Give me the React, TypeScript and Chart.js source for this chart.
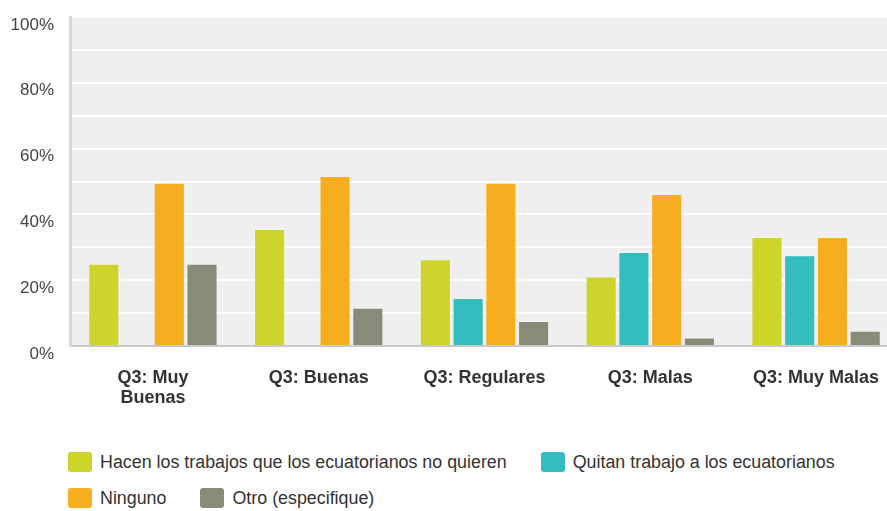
import React, { useEffect, useRef } from 'react';
import { Chart, registerables } from 'chart.js';

Chart.register(...registerables);

const categories: (string | string[])[] = [['Q3: Muy', 'Buenas'], 'Q3: Buenas', 'Q3: Regulares', 'Q3: Malas', 'Q3: Muy Malas'];
const seriesNames = [
  'Hacen los trabajos que los ecuatorianos no quieren',
  'Quitan trabajo a los ecuatorianos',
  'Ninguno',
  'Otro (especifique)',
];
const hacenValues = [25, 35.6, 26.4, 21.1, 33.1];
const quitanValues = [0, 0, 14.6, 28.6, 27.6];
const ningunoValues = [49.6, 51.7, 49.6, 46.2, 33.1];
const otroValues = [25, 11.6, 7.6, 2.6, 4.6];
const seriesColors = ['#CDD52A', '#33BDBE', '#F6AE1F', '#8A8A78'];
const yMax = 100;
const yStep = 10;
const yLabelEvery = 20;

const FONT = "'Liberation Sans', Arial, Helvetica, sans-serif";

const bgPlugin = {
  id: 'plotBg',
  beforeDraw(chart: any) {
    const { ctx, chartArea } = chart;
    if (!chartArea) return;
    ctx.save();
    ctx.fillStyle = '#EFEFEF';
    ctx.fillRect(chartArea.left, chartArea.top, chartArea.right - chartArea.left, chartArea.bottom - chartArea.top);
    ctx.restore();
  },
};

export default function App() {
  const canvasRef = useRef<HTMLCanvasElement | null>(null);

  useEffect(() => {
    const canvas = canvasRef.current;
    if (!canvas) return;
    const allValues = [hacenValues, quitanValues, ningunoValues, otroValues];
    const chart = new Chart(canvas, {
      type: 'bar',
      data: {
        labels: categories,
        datasets: seriesNames.map((name, i) => ({
          label: name,
          data: allValues[i],
          backgroundColor: seriesColors[i],
          borderColor: 'rgba(255,255,255,0.25)',
          borderWidth: 1,
          categoryPercentage: 0.79,
          barPercentage: 0.95,
        })),
      },
      options: {
        animation: false,
        responsive: false,
        maintainAspectRatio: false,
        layout: { padding: { top: 17, left: 0, right: 0, bottom: 0 } },
        plugins: {
          legend: { display: false },
          tooltip: { enabled: false },
        },
        scales: {
          x: {
            grid: { display: false, drawTicks: false },
            border: { display: true, color: '#C9C9C9', width: 2 },
            ticks: {
              color: '#333333',
              font: { family: FONT, size: 18, weight: 'bold', lineHeight: 1.11 },
              padding: 22,
              maxRotation: 0,
              autoSkip: false,
            },
            afterFit(scale: any) {
              scale.height = 420 - 346;
              scale.paddingLeft = 0;
              scale.paddingRight = 0;
            },
          },
          y: {
            min: 0,
            max: yMax,
            grid: {
              drawTicks: false,
              lineWidth: 2,
              color: (c: any) => (c.tick && c.tick.value === 0 ? 'rgba(0,0,0,0)' : '#FFFFFF'),
            },
            border: { display: true, color: '#D8D8D8', width: 3 },
            ticks: {
              stepSize: yStep,
              autoSkip: false,
              color: '#444444',
              font: { family: FONT, size: 17 },
              padding: 16,
              labelOffset: 8,
              callback: (v: any) => (Number(v) % yLabelEvery === 0 ? `${v}%` : ''),
            },
            afterFit(scale: any) {
              scale.width = 70;
              scale.paddingTop = 0;
              scale.paddingBottom = 0;
            },
          },
        },
      },
      plugins: [bgPlugin],
    });
    return () => chart.destroy();
  }, []);

  return (
    <div style={{ position: 'absolute', left: 0, top: 0, width: 887, height: 511, overflow: 'hidden', background: '#fff' }}>
      <canvas ref={canvasRef} width={899} height={420} style={{ display: 'block', width: 899, height: 420 }} />
      <div
        style={{
          position: 'absolute',
          left: 68,
          top: 452,
          width: 819,
          display: 'flex',
          flexWrap: 'wrap',
          columnGap: 34,
          rowGap: 16,
          fontFamily: FONT,
          fontSize: 17.85,
          lineHeight: '20px',
          color: '#333333',
        }}
      >
        {seriesNames.map((name, i) => (
          <div key={name} style={{ display: 'flex', alignItems: 'center', whiteSpace: 'nowrap' }}>
            <span style={{ display: 'inline-block', width: 24, height: 20, borderRadius: 3, background: seriesColors[i], marginRight: 8 }} />
            <span>{name}</span>
          </div>
        ))}
      </div>
    </div>
  );
}
